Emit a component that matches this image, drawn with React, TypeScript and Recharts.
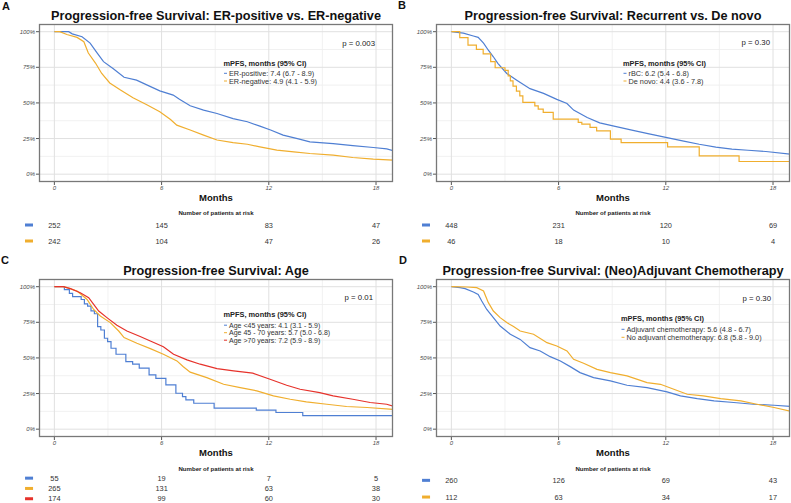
import React from 'react';
import { LineChart, Line, XAxis, YAxis, CartesianGrid, ScatterChart, Scatter } from 'recharts';

const BLUE = '#4f7fd3';
const ORANGE = '#f0ae2e';
const RED = '#e6322b';
const FONT = '"Liberation Sans", Arial, sans-serif';

const monthTicks = [0, 6, 12, 18];
const minorMonths = [3, 9, 15];
const survTicks = [0, 0.25, 0.5, 0.75, 1];
const minorSurv = [0.125, 0.375, 0.625, 0.875];
const X_DOMAIN: [number, number] = [-0.86, 18.95];
const Y_DOMAIN: [number, number] = [-0.055, 1.054];

// A: ER-positive vs ER-negative
const erPosT = [0, 0.8, 1.0, 1.55, 2.0, 2.4, 2.75, 3.3, 3.9, 4.6, 5.2, 5.9, 6.65, 7.0, 7.6, 8.35, 9.1, 10.0, 10.8, 11.5, 12.1, 12.8, 13.6, 14.3, 15.6, 16.7, 17.85, 18.6, 19];
const erPosS = [1, 1, 0.985, 0.965, 0.92, 0.85, 0.79, 0.74, 0.68, 0.66, 0.625, 0.585, 0.555, 0.525, 0.48, 0.45, 0.426, 0.39, 0.368, 0.337, 0.31, 0.274, 0.25, 0.227, 0.215, 0.2, 0.187, 0.178, 0.164];
const erNegT = [0, 0.3, 0.7, 1.27, 1.65, 1.9, 2.3, 2.65, 3.1, 3.7, 4.4, 5.2, 5.9, 6.5, 6.85, 7.6, 8.35, 9.1, 10.0, 10.8, 11.5, 12.45, 13.4, 14.3, 15.6, 16.7, 17.85, 19];
const erNegS = [1, 1, 0.98, 0.96, 0.93, 0.85, 0.78, 0.707, 0.64, 0.59, 0.536, 0.485, 0.438, 0.384, 0.344, 0.31, 0.274, 0.24, 0.222, 0.21, 0.192, 0.169, 0.157, 0.145, 0.133, 0.117, 0.105, 0.098];
const riskErPos = [252, 145, 83, 47];
const riskErNeg = [242, 104, 47, 26];

// B: Recurrent vs De novo
const rbcT = [0, 0.67, 1.23, 1.5, 1.8, 2.07, 2.35, 2.6, 3.1, 3.66, 4.4, 5.16, 5.9, 6.47, 6.84, 7.6, 8.3, 9.1, 10.1, 11.0, 12.0, 13.0, 13.87, 14.8, 15.7, 16.6, 17.6, 19];
const rbcS = [1, 0.99, 0.97, 0.96, 0.92, 0.87, 0.824, 0.778, 0.707, 0.66, 0.6, 0.567, 0.525, 0.496, 0.45, 0.398, 0.36, 0.337, 0.309, 0.285, 0.258, 0.232, 0.21, 0.19, 0.176, 0.168, 0.159, 0.14];
const deNovoT = [0, 0.47, 0.93, 1.4, 1.78, 2.2, 2.45, 3.0, 3.18, 3.3, 3.45, 3.64, 3.83, 4.0, 4.67, 4.86, 5.14, 5.7, 7.1, 7.3, 7.76, 8.13, 8.9, 9.5, 12.1, 13.87, 16.1, 19];
const deNovoS = [1, 0.958, 0.906, 0.876, 0.845, 0.79, 0.747, 0.728, 0.69, 0.655, 0.618, 0.583, 0.55, 0.504, 0.48, 0.457, 0.433, 0.386, 0.363, 0.351, 0.328, 0.304, 0.246, 0.222, 0.192, 0.129, 0.089, 0.089];
const riskRbc = [448, 231, 120, 69];
const riskDeNovo = [46, 18, 10, 4];

// C: Age
const youngT = [0, 0.56, 0.84, 1.02, 1.5, 1.68, 1.86, 2.05, 2.24, 2.42, 2.6, 2.8, 2.98, 3.17, 3.45, 4.0, 4.38, 4.75, 5.3, 5.68, 6.24, 6.8, 7.17, 7.36, 7.8, 8.94, 11.3, 12.4, 13.9, 19];
const youngS = [1, 0.98, 0.953, 0.93, 0.91, 0.88, 0.864, 0.83, 0.81, 0.72, 0.696, 0.638, 0.614, 0.568, 0.526, 0.474, 0.456, 0.428, 0.381, 0.357, 0.311, 0.252, 0.229, 0.206, 0.182, 0.147, 0.133, 0.117, 0.095, 0.095];
const midT = [0, 0.5, 0.7, 1.27, 1.83, 2.2, 2.57, 3.13, 3.6, 3.9, 4.62, 5.37, 6.1, 6.86, 7.2, 7.6, 8.53, 9.47, 10.4, 11.33, 12.26, 13.2, 14.1, 15.25, 16.35, 17.5, 19];
const midS = [1, 1, 0.993, 0.97, 0.91, 0.84, 0.794, 0.748, 0.689, 0.643, 0.603, 0.565, 0.526, 0.479, 0.44, 0.4, 0.362, 0.315, 0.292, 0.269, 0.234, 0.21, 0.192, 0.175, 0.159, 0.152, 0.138];
const oldT = [0, 0.5, 0.9, 1.45, 1.92, 2.2, 2.48, 2.94, 3.5, 4.06, 4.8, 5.37, 6.1, 6.67, 7.42, 8.16, 9.1, 10.03, 11.1, 12.07, 13.0, 13.75, 14.85, 15.6, 16.7, 17.67, 18.6, 19];
const oldS = [1, 1, 0.986, 0.958, 0.923, 0.876, 0.829, 0.783, 0.729, 0.689, 0.65, 0.619, 0.579, 0.526, 0.486, 0.456, 0.425, 0.409, 0.393, 0.35, 0.308, 0.28, 0.257, 0.234, 0.21, 0.187, 0.175, 0.159];
const riskYoung = [55, 19, 7, 5];
const riskMid = [265, 131, 63, 38];
const riskOld = [174, 99, 60, 30];

// D: (Neo)Adjuvant chemotherapy
const adjT = [0, 0.49, 0.77, 1.23, 1.5, 1.7, 1.98, 2.35, 2.73, 3.3, 3.85, 4.4, 4.97, 5.53, 6.1, 6.65, 7.2, 7.96, 8.9, 9.83, 10.95, 12.07, 12.82, 13.76, 14.7, 15.8, 16.9, 18.06, 19];
const adjS = [1, 0.993, 0.986, 0.963, 0.946, 0.9, 0.84, 0.783, 0.724, 0.666, 0.63, 0.572, 0.549, 0.509, 0.479, 0.439, 0.397, 0.362, 0.339, 0.308, 0.292, 0.262, 0.234, 0.215, 0.199, 0.187, 0.175, 0.168, 0.159];
const noAdjT = [0, 0.86, 1.42, 1.8, 2.07, 2.35, 2.73, 3.1, 3.48, 3.85, 4.6, 5.35, 5.9, 6.47, 6.84, 7.4, 8.15, 8.9, 9.83, 10.95, 11.7, 12.45, 13.2, 14.1, 15.07, 16.2, 17.1, 18.06, 19];
const noAdjS = [1, 0.998, 0.993, 0.97, 0.888, 0.829, 0.783, 0.748, 0.72, 0.689, 0.666, 0.607, 0.584, 0.549, 0.49, 0.463, 0.42, 0.397, 0.374, 0.327, 0.315, 0.28, 0.245, 0.234, 0.215, 0.199, 0.175, 0.152, 0.125];
const riskAdj = [260, 126, 69, 43];
const riskNoAdj = [112, 63, 34, 17];

type Series = { label: string; color: string; t: number[]; s: number[]; step: boolean; risk: number[] };

type PanelCfg = {
  ox: number;
  oy: number;
  letter: string;
  letterX: number;
  letterY: number;
  title: string;
  p: string;
  pX: number;
  pY: number;
  legX: number;
  headY: number;
  rowYs: number[];
  legFont: number;
  riskYs: number[];
  riskHeadY: number;
  series: Series[];
};

const pts = (t: number[], s: number[]) => t.map((v, i) => ({ t: v, s: s[i] }));

function KmPanel({ cfg }: { cfg: PanelCfg }) {
  const { ox, oy, series } = cfg;
  const gap = cfg.riskYs[1] - cfg.riskYs[0];
  const n = series.length;
  const riskTop = cfg.riskYs[0] - gap / 2;
  const rows = series.map((_, i) => i);
  return (
    <>
      <div style={{ position: 'absolute', left: ox, top: oy + 24 }}>
        <LineChart width={393} height={172} margin={{ top: 0, right: 0, bottom: 0, left: 0 }}>
          <CartesianGrid verticalValues={minorMonths} horizontalValues={minorSurv} stroke="#eeeeee" strokeWidth={0.8} />
          <CartesianGrid verticalValues={monthTicks} horizontalValues={survTicks} stroke="#e0e0e0" strokeWidth={1} />
          <XAxis
            type="number"
            dataKey="t"
            domain={X_DOMAIN}
            ticks={monthTicks}
            allowDataOverflow
            interval={0}
            axisLine={false}
            tickLine={{ stroke: '#555' }}
            tickSize={3}
            tickMargin={1}
            height={14}
            tick={{ fontSize: 6, fontStyle: 'italic', fill: '#4d4d4d', fontFamily: FONT }}
          />
          <YAxis
            type="number"
            domain={Y_DOMAIN}
            ticks={survTicks}
            allowDataOverflow
            interval={0}
            width={39}
            axisLine={false}
            tickLine={{ stroke: '#555' }}
            tickSize={3}
            tickMargin={1}
            tickFormatter={(v: number) => `${Math.round(v * 100)}%`}
            tick={{ fontSize: 6, fontStyle: 'italic', fill: '#4d4d4d', fontFamily: FONT }}
          />
          {series.map((sr) => (
            <Line
              key={sr.label}
              data={pts(sr.t, sr.s)}
              dataKey="s"
              type={sr.step ? 'stepAfter' : 'linear'}
              stroke={sr.color}
              strokeWidth={1.2}
              dot={false}
              isAnimationActive={false}
            />
          ))}
        </LineChart>
      </div>

      <div style={{ position: 'absolute', left: ox, top: oy + riskTop }}>
        <ScatterChart width={393} height={gap * n} margin={{ top: 0, right: 0, bottom: 0, left: 0 }}>
          <XAxis type="number" dataKey="t" domain={X_DOMAIN} hide />
          <YAxis
            type="number"
            dataKey="row"
            domain={[-0.5, n - 0.5]}
            reversed
            ticks={rows}
            interval={0}
            width={39}
            axisLine={false}
            tickLine={false}
            tick={(props: any) => (
              <rect x={25} y={props.y - 1.5} width={8} height={3} fill={series[props.payload.value].color} />
            )}
          />
          {series.map((sr, i) => (
            <Scatter
              key={sr.label}
              data={monthTicks.map((m, j) => ({ t: m, row: i, n: sr.risk[j] }))}
              isAnimationActive={false}
              shape={(p: any) => (
                <text x={p.cx} y={p.cy} dy="0.35em" textAnchor="middle" fontSize={7.4} fill="#333" fontFamily={FONT}>
                  {p.payload.n}
                </text>
              )}
            />
          ))}
        </ScatterChart>
      </div>

      <svg
        width={395}
        height={250}
        style={{ position: 'absolute', left: ox, top: oy, pointerEvents: 'none', overflow: 'visible', zIndex: 2 }}
        fontFamily={FONT}
      >
        {/* panel border */}
        <rect x={39.5} y={24.5} width={353} height={157} fill="none" stroke="#787878" strokeWidth={1.3} />
        <text x={216} y={19.5} textAnchor="middle" fontSize={12.7} fontWeight="bold" fill="#111">
          {cfg.title}
        </text>
        <text x={cfg.pX} y={cfg.pY} textAnchor="end" dominantBaseline="central" fontSize={7.8} fill="#222">
          {cfg.p}
        </text>
        <text x={cfg.legX} y={cfg.headY} dominantBaseline="central" fontSize={7.4} fontWeight="bold" fill="#222">
          mPFS, months (95% CI)
        </text>
        {series.map((sr, i) => (
          <g key={sr.label}>
            <line x1={cfg.legX + 0.5} x2={cfg.legX + 3.5} y1={cfg.rowYs[i]} y2={cfg.rowYs[i]} stroke={sr.color} strokeWidth={1} />
            <text x={cfg.legX + 5.5} y={cfg.rowYs[i]} dominantBaseline="central" fontSize={cfg.legFont} fill="#333">
              {sr.label}
            </text>
          </g>
        ))}
        <text x={216} y={197} textAnchor="middle" dominantBaseline="central" fontSize={9.5} fontWeight="bold" fill="#111">
          Months
        </text>
        <text x={216} y={cfg.riskHeadY} textAnchor="middle" dominantBaseline="central" fontSize={6.1} fontWeight="bold" fill="#222">
          Number of patients at risk
        </text>
      </svg>
      <svg width={20} height={20} style={{ position: 'absolute', left: cfg.letterX, top: cfg.letterY - 11, overflow: 'visible' }}>
        <text x={0} y={11} fontSize={11} fontWeight="bold" fill="#111" fontFamily={FONT}>
          {cfg.letter}
        </text>
      </svg>
    </>
  );
}

const panels: PanelCfg[] = [
  {
    ox: 0, oy: 0, letter: 'A', letterX: 1.5, letterY: 9.5,
    title: 'Progression-free Survival: ER-positive vs. ER-negative',
    p: 'p = 0.003', pX: 375, pY: 43, legX: 223.5, headY: 63, rowYs: [73.3, 81], legFont: 7.3,
    riskYs: [225, 241], riskHeadY: 212,
    series: [
      { label: 'ER-positive: 7.4 (6.7 - 8.9)', color: BLUE, t: erPosT, s: erPosS, step: false, risk: riskErPos },
      { label: 'ER-negative: 4.9 (4.1 - 5.9)', color: ORANGE, t: erNegT, s: erNegS, step: false, risk: riskErNeg },
    ],
  },
  {
    ox: 397, oy: 0, letter: 'B', letterX: 398, letterY: 9,
    title: 'Progression-free Survival: Recurrent vs. De novo',
    p: 'p = 0.30', pX: 373, pY: 42.5, legX: 226, headY: 63, rowYs: [73.3, 81], legFont: 7.3,
    riskYs: [225, 241], riskHeadY: 212,
    series: [
      { label: 'rBC: 6.2 (5.4 - 6.8)', color: BLUE, t: rbcT, s: rbcS, step: false, risk: riskRbc },
      { label: 'De novo: 4.4 (3.6 - 7.8)', color: ORANGE, t: deNovoT, s: deNovoS, step: true, risk: riskDeNovo },
    ],
  },
  {
    ox: 0, oy: 255, letter: 'C', letterX: 1, letterY: 264,
    title: 'Progression-free Survival: Age',
    p: 'p = 0.01', pX: 373, pY: 42.7, legX: 223.5, headY: 59, rowYs: [70.2, 77.7, 85.2], legFont: 7,
    riskYs: [223.5, 233.8, 244.1], riskHeadY: 213,
    series: [
      { label: 'Age <45 years: 4.1 (3.1 - 5.9)', color: BLUE, t: youngT, s: youngS, step: true, risk: riskYoung },
      { label: 'Age 45 - 70 years: 5.7 (5.0 - 6.8)', color: ORANGE, t: midT, s: midS, step: false, risk: riskMid },
      { label: 'Age >70 years: 7.2 (5.9 - 8.9)', color: RED, t: oldT, s: oldS, step: false, risk: riskOld },
    ],
  },
  {
    ox: 397, oy: 255, letter: 'D', letterX: 399, letterY: 264,
    title: 'Progression-free Survival: (Neo)Adjuvant Chemotherapy',
    p: 'p = 0.30', pX: 374, pY: 43, legX: 224, headY: 63.3, rowYs: [74.3, 82.3], legFont: 7.3,
    riskYs: [225, 241.7], riskHeadY: 213,
    series: [
      { label: 'Adjuvant chemotherapy: 5.6 (4.8 - 6.7)', color: BLUE, t: adjT, s: adjS, step: false, risk: riskAdj },
      { label: 'No adjuvant chemotherapy: 6.8 (5.8 - 9.0)', color: ORANGE, t: noAdjT, s: noAdjS, step: false, risk: riskNoAdj },
    ],
  },
];

export default function App() {
  return (
    <div
      style={{
        position: 'absolute',
        left: 0,
        top: 0,
        width: 791,
        height: 503,
        background: '#fff',
        overflow: 'hidden',
        fontFamily: FONT,
      }}
    >
      {panels.map((cfg) => (
        <KmPanel key={cfg.letter} cfg={cfg} />
      ))}
    </div>
  );
}
